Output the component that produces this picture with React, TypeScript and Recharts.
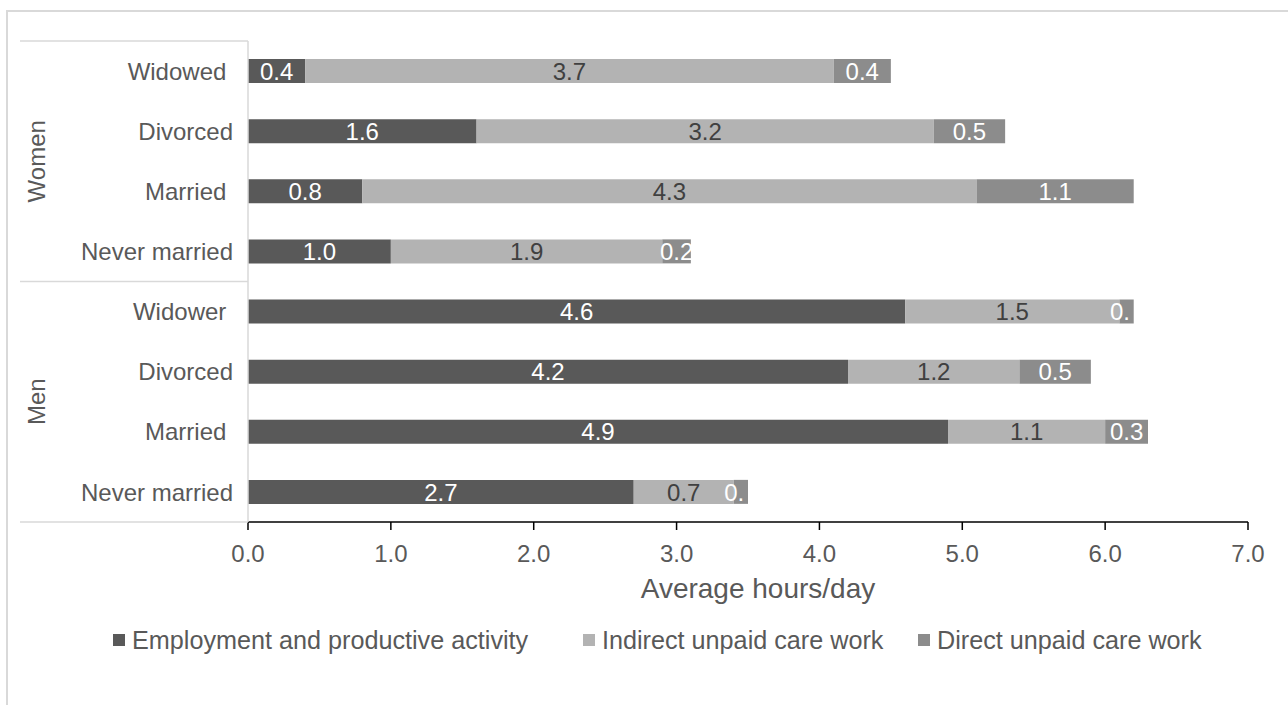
import React from 'react';
import { BarChart, Bar, XAxis, YAxis, LabelList } from 'recharts';

// Marital status groups and categories (top to bottom)
const categoryGroups = ['Women', 'Women', 'Women', 'Women', 'Men', 'Men', 'Men', 'Men'];
const categoryLabels = ['Widowed ', 'Divorced', 'Married ', 'Never married', 'Widower ', 'Divorced', 'Married ', 'Never married'];

// Average hours per day for each activity
const employmentHours = [0.4, 1.6, 0.8, 1.0, 4.6, 4.2, 4.9, 2.7];
const indirectCareHours = [3.7, 3.2, 4.3, 1.9, 1.5, 1.2, 1.1, 0.7];
const directCareHours = [0.4, 0.5, 1.1, 0.2, 0.1, 0.5, 0.3, 0.1];

const xTicks = [0, 1, 2, 3, 4, 5, 6, 7];
const seriesKeys = ['employment', 'indirect', 'direct'];
const seriesNames = ['Employment and productive activity', 'Indirect unpaid care work', 'Direct unpaid care work'];
const seriesColors = ['#595959', '#b3b3b3', '#8c8c8c'];
const seriesLabelColors = ['#ffffff', '#404040', '#ffffff'];
const axisTitle = 'Average hours/day';

const data = categoryLabels.map((label, i) => ({
  id: `c${i}`,
  label,
  group: categoryGroups[i],
  employment: employmentHours[i],
  indirect: indirectCareHours[i],
  direct: directCareHours[i],
}));

const FONT = '"Liberation Sans", Arial, Helvetica, sans-serif';
const TEXT_COLOR = '#595959';
const GRID_COLOR = '#d9d9d9';
const WIDTH = 1288;
const HEIGHT = 705;
const PLOT_TOP = 41;
const PLOT_LEFT = 248;
const PLOT_RIGHT = 1248;
const PLOT_BOTTOM = 522;
const BAND = (PLOT_BOTTOM - PLOT_TOP) / data.length;
const LABEL_SIZE = 24;
const LEGEND_ITEM_X = [113, 583, 918];

// Approximate advance widths (em) for numeric label glyphs
const glyphWidth = (ch: string) => (ch === '.' ? 0.278 : 0.556);
const textWidth = (s: string) => s.split('').reduce((sum, ch) => sum + glyphWidth(ch), 0) * LABEL_SIZE;

function CategoryTick(props: any) {
  const { y, payload } = props;
  const idx = data.findIndex((d) => d.id === payload.value);
  if (idx < 0) return null;
  const cy = Number(y);
  const group = data[idx].group;
  const groupStart = data.findIndex((d) => d.group === group);
  const groupCount = data.filter((d) => d.group === group).length;
  const isFirst = idx === groupStart;
  const isLast = idx === data.length - 1;
  const groupCenter = cy + ((groupCount - 1) / 2) * BAND;
  return (
    <g>
      <text
        x={233}
        y={cy}
        dy="0.36em"
        textAnchor="end"
        fill={TEXT_COLOR}
        fontSize={24}
        fontFamily={FONT}
        style={{ whiteSpace: 'pre' }}
      >
        {data[idx].label}
      </text>
      {isFirst && (
        <>
          <line x1={20} x2={PLOT_LEFT} y1={cy - BAND / 2} y2={cy - BAND / 2} stroke={GRID_COLOR} strokeWidth={1.5} />
          <text
            x={36}
            y={groupCenter}
            dy="0.36em"
            textAnchor="middle"
            fill={TEXT_COLOR}
            fontSize={24}
            fontFamily={FONT}
            transform={`rotate(-90, 36, ${groupCenter})`}
          >
            {group}
          </text>
        </>
      )}
      {isLast && (
        <line x1={20} x2={PLOT_LEFT} y1={cy + BAND / 2} y2={cy + BAND / 2} stroke={GRID_COLOR} strokeWidth={1.5} />
      )}
    </g>
  );
}

function AxisTitle(props: any) {
  const vb = props.viewBox || {};
  const x = vb.x !== undefined ? vb.x + vb.width / 2 + 10 : (PLOT_LEFT + PLOT_RIGHT) / 2 + 10;
  const y = vb.y !== undefined ? vb.y + 76 : PLOT_BOTTOM + 76;
  return (
    <text x={x} y={y} textAnchor="middle" fill={TEXT_COLOR} fontSize={28} fontFamily={FONT}>
      {axisTitle}
    </text>
  );
}

// Value label centred on its segment; text too wide for a thin segment is cut short at the end
const makeValueLabel = (seriesIndex: number) => (props: any) => {
  const x = Number(props.x);
  const y = Number(props.y);
  const w = Number(props.width);
  const h = Number(props.height);
  const value = Number(props.value);
  if (!isFinite(value) || w <= 0) return null;
  const full = value.toFixed(1);
  const fullW = textWidth(full);
  let shown = full;
  while (shown.length > 1 && textWidth(full) > w + 15 && textWidth(shown) > w + 6) {
    shown = shown.slice(0, -1);
  }
  return (
    <text
      x={x + w / 2 - fullW / 2}
      y={y + h / 2}
      dy="0.36em"
      textAnchor="start"
      fill={seriesLabelColors[seriesIndex]}
      fontSize={LABEL_SIZE}
      fontFamily={FONT}
    >
      {shown}
    </text>
  );
};

export default function App() {
  return (
    <div
      style={{
        position: 'absolute',
        left: 0,
        top: 0,
        width: WIDTH,
        height: HEIGHT,
        overflow: 'hidden',
        background: '#ffffff',
        fontFamily: FONT,
      }}
    >
      <div
        style={{
          position: 'absolute',
          left: 6,
          top: 10,
          width: WIDTH + 100,
          height: HEIGHT + 100,
          borderLeft: `2px solid ${GRID_COLOR}`,
          borderTop: `2px solid ${GRID_COLOR}`,
        }}
      />
      <div style={{ position: 'absolute', left: 0, top: 0 }}>
        <BarChart
          width={WIDTH}
          height={HEIGHT}
          data={data}
          layout="vertical"
          margin={{ top: PLOT_TOP, right: WIDTH - PLOT_RIGHT, bottom: HEIGHT - PLOT_BOTTOM - 100, left: 0 }}
          barSize={24}
        >
          <XAxis
            type="number"
            domain={[0, 7]}
            ticks={xTicks}
            interval={0}
            tickFormatter={(v: number) => v.toFixed(1)}
            height={100}
            axisLine={{ stroke: '#000000', strokeWidth: 1.5 }}
            tickLine={{ stroke: '#000000', strokeWidth: 1.5 }}
            tickSize={8}
            tickMargin={15}
            tick={{ fill: TEXT_COLOR, fontSize: 24, fontFamily: FONT }}
            label={<AxisTitle />}
          />
          <YAxis
            type="category"
            dataKey="id"
            width={PLOT_LEFT}
            interval={0}
            axisLine={{ stroke: GRID_COLOR, strokeWidth: 1.5 }}
            tickLine={false}
            tick={<CategoryTick />}
          />
          {seriesKeys.map((key, i) => (
            <Bar
              key={key}
              dataKey={key}
              name={seriesNames[i]}
              stackId="hours"
              fill={seriesColors[i]}
              isAnimationActive={false}
            >
              <LabelList dataKey={key} content={makeValueLabel(i)} />
            </Bar>
          ))}
        </BarChart>
      </div>
      {seriesNames.map((name, i) => (
        <div
          key={name}
          style={{
            position: 'absolute',
            left: LEGEND_ITEM_X[i],
            top: 626,
            display: 'flex',
            alignItems: 'center',
            fontSize: 25.2,
            lineHeight: '28px',
            color: TEXT_COLOR,
            fontFamily: FONT,
            whiteSpace: 'nowrap',
          }}
        >
          <span style={{ display: 'inline-block', width: 12, height: 12, background: seriesColors[i], marginRight: 7 }} />
          <span>{name}</span>
        </div>
      ))}
    </div>
  );
}
